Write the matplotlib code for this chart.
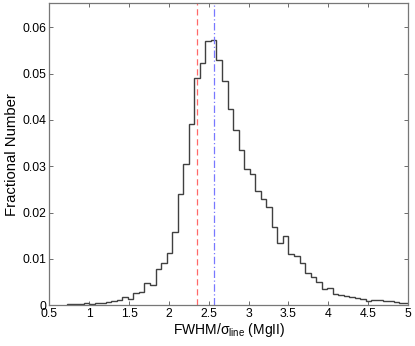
import numpy as np
from matplotlib import pyplot as plt

# histogram bins (left edges start at 0.72, width ~0.0695)
bin_start = 0.72
bin_width = 0.0695
frac = [0.0002, 0.0002, 0.0003, 0.0004, 0.0003, 0.0005, 0.0005, 0.0007, 0.0009, 0.0012,
        0.0017, 0.0013, 0.0027, 0.0029, 0.0047, 0.00425, 0.0079, 0.0090, 0.0112, 0.0158,
        0.0240, 0.0304, 0.0390, 0.0491, 0.0522, 0.0570, 0.0573, 0.0530, 0.0484, 0.0424,
        0.0378, 0.0334, 0.0293, 0.0283, 0.0247, 0.0229, 0.0211, 0.0169, 0.0135, 0.0149,
        0.0110, 0.0107, 0.0090, 0.0070, 0.0060, 0.0050, 0.0034, 0.0037, 0.0025, 0.0022,
        0.0020, 0.0018, 0.0016, 0.0014, 0.0009, 0.0011, 0.0012, 0.0009, 0.0009, 0.0006,
        0.0005, 0.0004]
red_x = 2.35
blue_x = 2.56
xticks = [0.5, 1, 1.5, 2, 2.5, 3, 3.5, 4, 4.5, 5]
yticks = [0, 0.01, 0.02, 0.03, 0.04, 0.05, 0.06]

plt.rcParams['font.family'] = ['Liberation Sans', 'DejaVu Sans']
plt.rcParams['font.size'] = 8.8
plt.rcParams['mathtext.fontset'] = 'custom'
plt.rcParams['mathtext.rm'] = 'Liberation Sans'
plt.rcParams['mathtext.it'] = 'Liberation Sans'

fig = plt.figure(figsize=(4.15, 3.46), dpi=100)
ax = fig.add_axes([0.119, 0.118, 0.864, 0.873])

edges = bin_start + bin_width * np.arange(len(frac) + 1)
ax.stairs(frac, edges, color='#404040', linewidth=1.0)
ax.axvline(red_x, color='#ff6a6a', linestyle=(0, (5, 3)), linewidth=0.9)
ax.axvline(blue_x, color='#7878ff', linestyle=(0, (6, 2, 1, 2)), linewidth=0.9)

ax.set_xlim(0.5, 5)
ax.set_ylim(0, 0.0652)
ax.set_xticks(xticks)
ax.set_xticklabels(['0.5', '1', '1.5', '2', '2.5', '3', '3.5', '4', '4.5', '5'])
ax.set_yticks(yticks)
ax.set_yticklabels(['0', '0.01', '0.02', '0.03', '0.04', '0.05', '0.06'])
ax.tick_params(direction='in', top=True, right=True, length=3, width=0.6,
               color='#555555', pad=2)
for s in ax.spines.values():
    s.set_color('#777777')
    s.set_linewidth(0.9)

ax.set_xlabel(r'FWHM/$\sigma_{\rm line}$ (MgII)', fontsize=10, labelpad=1)
ax.set_ylabel('Fractional Number', fontsize=10.7, labelpad=3)

fig.savefig('out.png', dpi=100)
